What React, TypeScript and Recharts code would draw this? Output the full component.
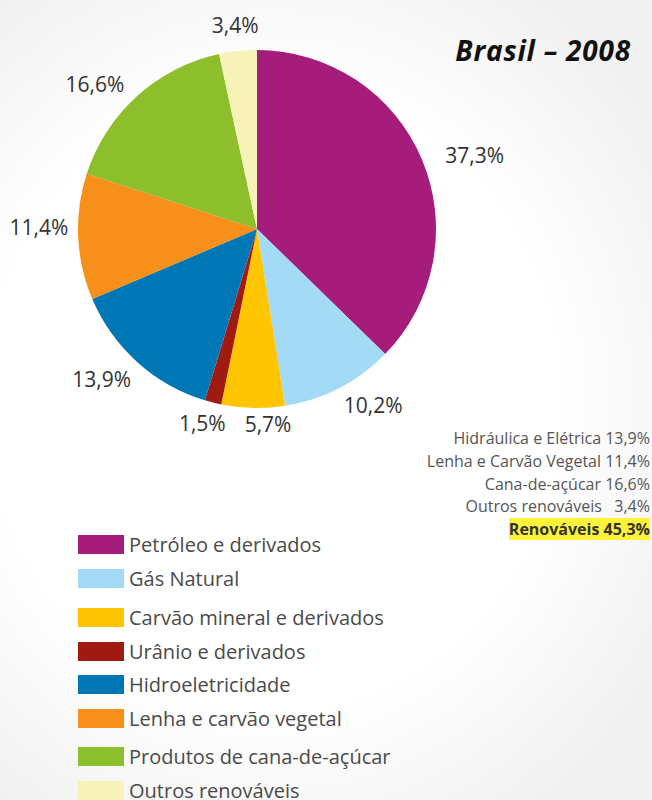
import React from "react";
import { PieChart, Pie, Cell } from "recharts";

// Oferta interna de energia - Brasil 2008 (%)
const sources = [
  "Petróleo e derivados",
  "Gás Natural",
  "Carvão mineral e derivados",
  "Urânio e derivados",
  "Hidroeletricidade",
  "Lenha e carvão vegetal",
  "Produtos de cana-de-açúcar",
  "Outros renováveis",
];
const shares = [37.3, 10.2, 5.7, 1.5, 13.9, 11.4, 16.6, 3.4];
const colors = [
  "#A51C7A",
  "#A3DAF5",
  "#FFC500",
  "#A11A12",
  "#0077B5",
  "#F7901A",
  "#8DBE2B",
  "#F6F2B8",
];

// renewable breakdown shown on the right
const renewLabels = [
  "Hidráulica e Elétrica",
  "Lenha e Carvão Vegetal",
  "Cana-de-açúcar",
  "Outros renováveis",
];
const renewValues = [13.9, 11.4, 16.6, 3.4];

const fmt = (v: number) => v.toFixed(1).replace(".", ",");

const chartData = sources.map((name, i) => ({ name, value: shares[i] }));

const FONT = '"Open Sans", "Noto Sans", sans-serif';
const RAD = Math.PI / 180;

// small angle nudges (deg, counter-clockwise) so the labels sit like the original
const labelNudge = [-4, 6, 4.5, -1.5, -4, -3, 6, 0];
const labelPad = [8, -3, -5, -5, -2, -3, -1, 3];

const renderLabel = (props: any) => {
  const { cx, cy, midAngle, outerRadius, value, index } = props;
  const a = midAngle + labelNudge[index];
  const c = Math.cos(-a * RAD);
  const s = Math.sin(-a * RAD);
  const dist = outerRadius + 12 + Math.abs(c) * 30 + Math.abs(s) * 8 + labelPad[index];
  return (
    <text
      x={cx + dist * c}
      y={cy + dist * s}
      textAnchor="middle"
      dominantBaseline="central"
      fill="#333"
      fontSize={21}
      fontFamily={FONT}
    >
      {fmt(value)}%
    </text>
  );
};

// extra space before a legend row (the original groups them a bit unevenly)
const rowGap = [0, 0, 6, 0, 0, 0, 5, 0];

export default function App() {
  const total = renewValues.reduce((a, b) => a + b, 0);
  return (
    <div
      style={{
        position: "absolute",
        left: 0,
        top: 0,
        width: 652,
        height: 800,
        overflow: "hidden",
        background:
          "radial-gradient(ellipse 70% 62% at 42% 50%, #ffffff 62%, #f1f1f1 100%)",
        fontFamily: FONT,
      }}
    >
      <PieChart
        width={652}
        height={520}
        margin={{ top: 0, right: 0, bottom: 0, left: 0 }}
        style={{ position: "absolute", left: 0, top: 0 }}
      >
        <Pie
          data={chartData}
          dataKey="value"
          nameKey="name"
          cx={257}
          cy={229}
          outerRadius={179}
          startAngle={90}
          endAngle={-270}
          stroke="none"
          label={renderLabel}
          labelLine={false}
          isAnimationActive={false}
        >
          {chartData.map((d, i) => (
            <Cell key={d.name} fill={colors[i]} />
          ))}
        </Pie>
      </PieChart>

      <div style={{ position: "absolute", left: 78, top: 528 }}>
        {sources.map((name, i) => (
          <div
            key={name}
            style={{
              display: "flex",
              alignItems: "center",
              height: 33.5,
              marginTop: rowGap[i],
            }}
          >
            <span
              style={{
                display: "inline-block",
                width: 46,
                height: 19,
                background: colors[i],
                marginRight: 5,
              }}
            />
            <span style={{ fontSize: 20, color: "#4a4a4a", whiteSpace: "nowrap" }}>{name}</span>
          </div>
        ))}
      </div>

      <div
        style={{
          position: "absolute",
          right: 21,
          top: 31,
          fontSize: 28,
          fontWeight: 700,
          fontStyle: "italic",
          color: "#111",
          letterSpacing: 0.8,
          whiteSpace: "nowrap",
        }}
      >
        Brasil – 2008
      </div>

      <div
        style={{
          position: "absolute",
          right: 2,
          top: 427,
          textAlign: "right",
          fontSize: 16,
          lineHeight: "22.8px",
          color: "#555",
          whiteSpace: "pre",
        }}
      >
        {renewLabels.map((l, i) => (
          <div key={l}>
            {l} {renewValues[i] < 10 ? "  " : ""}
            {fmt(renewValues[i])}%
          </div>
        ))}
        <div>
          <span
            style={{
              background: "#FFF23A",
              color: "#333",
              fontWeight: 700,
            }}
          >
            Renováveis {fmt(total)}%
          </span>
        </div>
      </div>
    </div>
  );
}
